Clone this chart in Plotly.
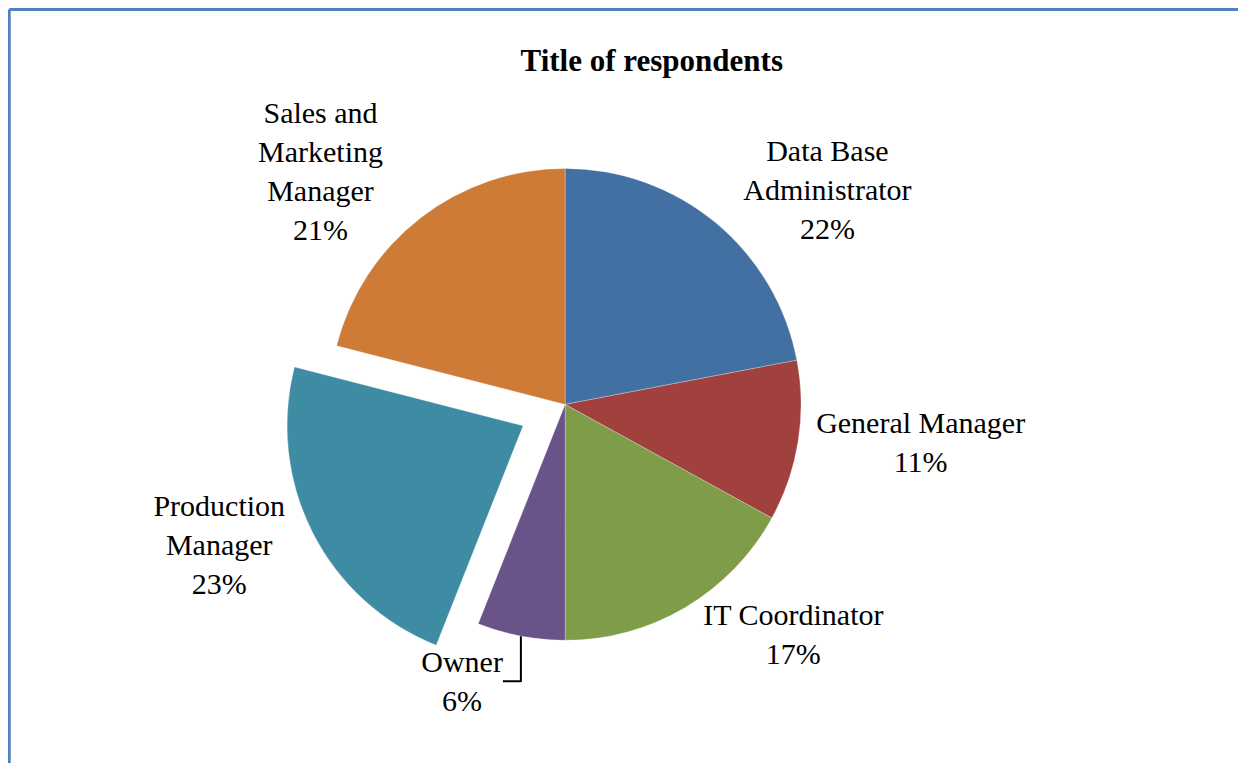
import plotly.graph_objects as go

# slices, clockwise from 12 o'clock
roles = ["Data Base Administrator", "General Manager", "IT Coordinator",
         "Owner", "Production Manager", "Sales and Marketing Manager"]
role_lines = ["Data Base<br>Administrator", "General Manager", "IT Coordinator",
              "Owner", "Production<br>Manager", "Sales and<br>Marketing<br>Manager"]
shares = [22, 11, 17, 6, 23, 21]
pulls = [0, 0, 0, 0, 0.2, 0]
colors = ["#4370A2", "#A0413E", "#7F9C49", "#6A5389", "#3D8CA3", "#CD7B37"]

SERIF = "Liberation Serif, Times New Roman, serif"

fig = go.Figure(go.Pie(
    labels=roles, values=shares, text=role_lines,
    sort=False, direction="clockwise", rotation=0, pull=pulls,
    marker=dict(colors=colors, line=dict(color="rgba(255,255,255,0.25)", width=1)),
    texttemplate="%{text}<br>%{percent:.0%}",
    textposition="outside", textfont=dict(family=SERIF, size=30, color="#000000"),
    automargin=False,
    domain=dict(x=[0.19, 0.71], y=[0.1, 0.85]),
    showlegend=False, hoverinfo="label+percent",
))

# page body adds an 8px offset, so the figure is 8px smaller than the window
fig.update_layout(
    width=1238, height=755,
    title=dict(text="<b>Title of respondents</b>", x=0.52, xanchor="center",
               y=0.931, yanchor="middle",
               font=dict(family=SERIF, size=31, color="#000000")),
    paper_bgcolor="#FFFFFF", plot_bgcolor="#FFFFFF",
    margin=dict(l=0, r=0, t=0, b=0, autoexpand=False),
    shapes=[
        dict(type="line", xref="paper", yref="paper", x0=0.001, x1=1, y0=0.998, y1=0.998,
             line=dict(color="#4F81BD", width=3)),
        dict(type="line", xref="paper", yref="paper", x0=0.001, x1=0.001, y0=0, y1=0.998,
             line=dict(color="#4F81BD", width=3)),
        dict(type="line", xref="paper", yref="paper", x0=0.9992, x1=0.9992, y0=0, y1=0.998,
             line=dict(color="#B8CCE4", width=1)),
    ],
)

fig.write_html("out.html")
